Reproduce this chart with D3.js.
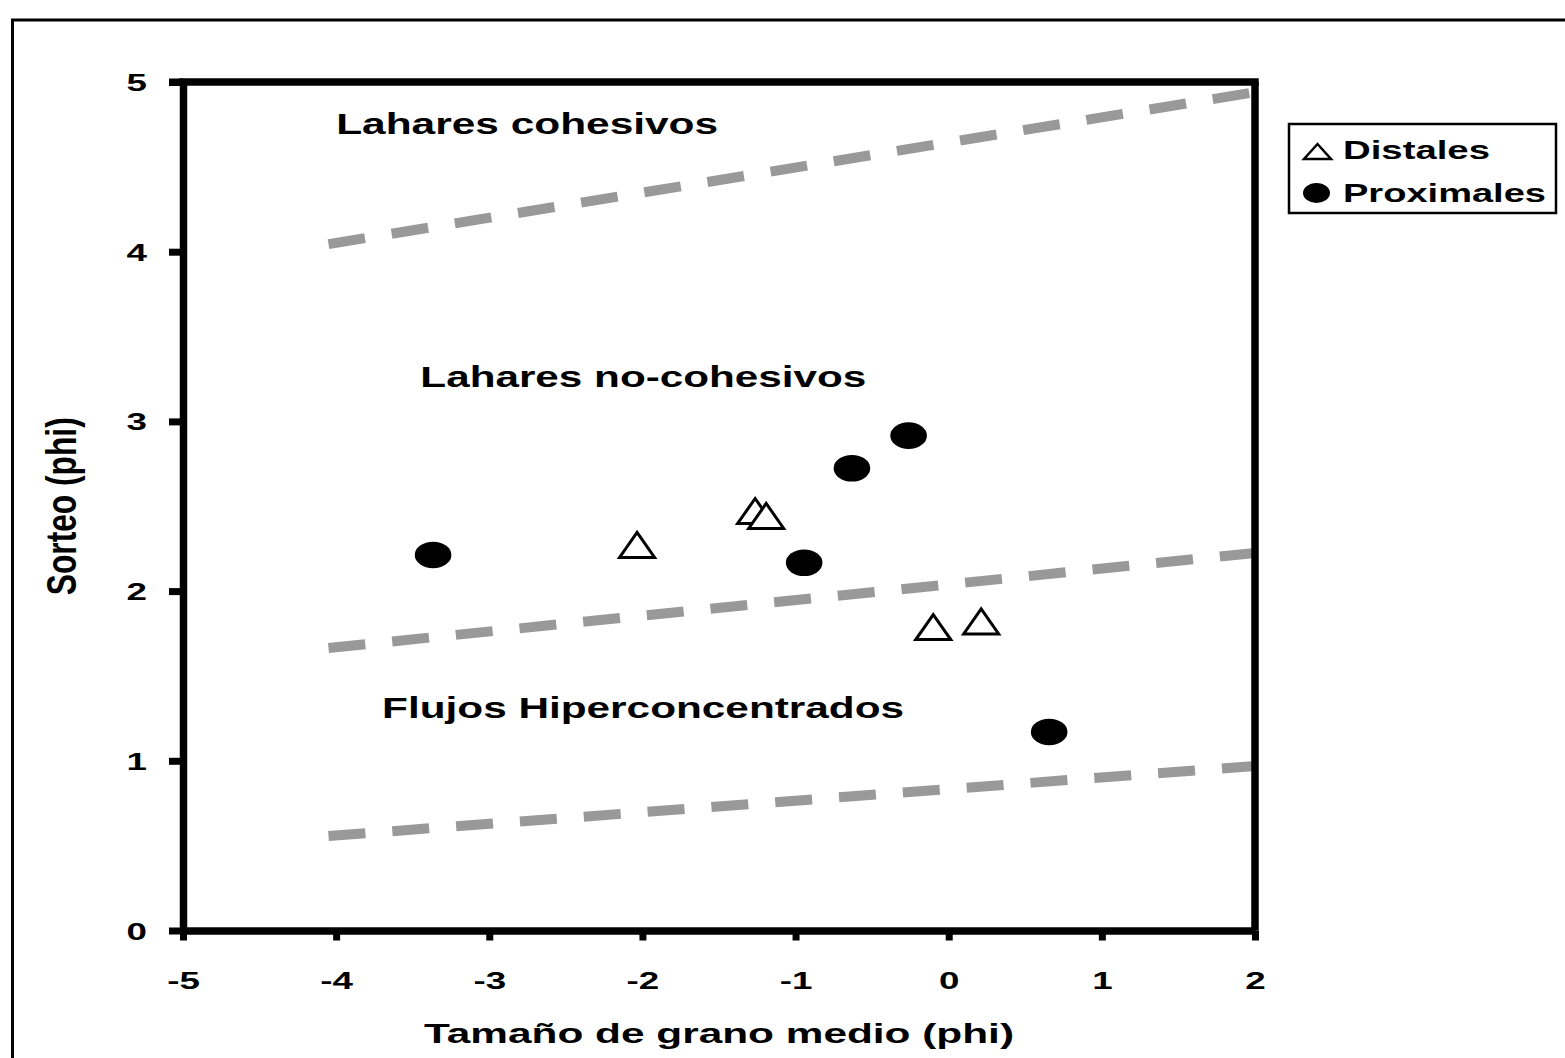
<!DOCTYPE html>
<html>
<head>
<meta charset="utf-8">
<script src="https://cdn.jsdelivr.net/npm/d3@7"></script>
<style>
  body { margin: 0; background: #fff; }
  text { font-family: "Liberation Sans", Arial, sans-serif; font-weight: bold; }
</style>
</head>
<body>
<div class="stage"></div>
<script>
// stage size
var width = 1565;
var height = 1058;

// data
var xTicks = [-5, -4, -3, -2, -1, 0, 1, 2];
var yTicks = [0, 1, 2, 3, 4, 5];

var distalesX = [-2.035, -1.264, -1.192, -0.101, 0.212];
var distalesY = [2.272, 2.472, 2.443, 1.788, 1.821];

var proximalesX = [-3.367, -0.944, -0.632, -0.262, 0.656];
var proximalesY = [2.213, 2.167, 2.724, 2.916, 1.170];

// boundary lines between flow types: [x, y] at each end
var limitNames = ['cohesivos', 'no-cohesivos', 'hiperconcentrados'];
var limitStart = [[-4.05, 4.045], [-4.05, 1.665], [-4.05, 0.557]];
var limitEnd = [[2, 4.94], [2, 2.225], [2, 0.97]];

// zone labels
var zoneLabels = ['Lahares cohesivos', 'Lahares no-cohesivos', 'Flujos Hiperconcentrados'];
var zoneX = [-4.0, -3.45, -3.70];
var zoneY = [4.75, 3.26, 1.31];
var zoneWidth = [382, 446, 522];

var legendLabels = ['Distales', 'Proximales'];

// scales
var x = d3.scaleLinear().domain([-5, 2]).range([183, 1255]);
var y = d3.scaleLinear().domain([0, 5]).range([930.5, 82]);

var svg = d3.select('.stage')
            .append('svg')
            .attr('width', width)
            .attr('height', height)
            .style('background', '#fff');

// outer frame (runs off the picture to the right and bottom)
svg.append('rect')
  .attr('x', 12.5)
  .attr('y', 20)
  .attr('width', 1700)
  .attr('height', 1200)
  .attr('fill', 'none')
  .attr('stroke', '#000')
  .attr('stroke-width', 3);

// dashed limit lines
svg.selectAll('.limit')
  .data(limitNames)
  .enter()
  .append('line')
  .attr('class', 'limit')
  .attr('x1', function(d, i) { return x(limitStart[i][0]); })
  .attr('y1', function(d, i) { return y(limitStart[i][1]); })
  .attr('x2', function(d, i) { return x(limitEnd[i][0]); })
  .attr('y2', function(d, i) { return y(limitEnd[i][1]); })
  .attr('stroke', '#999')
  .attr('stroke-width', 10)
  .attr('stroke-dasharray', '37 27');

// zone labels
svg.selectAll('.zone')
  .data(zoneLabels)
  .enter()
  .append('text')
  .attr('class', 'zone')
  .attr('x', function(d, i) { return x(zoneX[i]); })
  .attr('y', function(d, i) { return y(zoneY[i]) + 10; })
  .attr('font-size', 29)
  .attr('textLength', function(d, i) { return zoneWidth[i]; })
  .attr('lengthAdjust', 'spacingAndGlyphs')
  .text(function(d) { return d; });

// markers
var triPath = function(w, h) {
  return 'M0,' + (-h / 2) + 'L' + (w / 2) + ',' + (h / 2) + 'L' + (-w / 2) + ',' + (h / 2) + 'Z';
};

svg.selectAll('.distal')
  .data(distalesX)
  .enter()
  .append('path')
  .attr('class', 'distal')
  .attr('transform', function(d, i) { return 'translate(' + x(d) + ',' + y(distalesY[i]) + ')'; })
  .attr('d', triPath(35, 25))
  .attr('fill', '#fff')
  .attr('stroke', '#000')
  .attr('stroke-width', 3);

svg.selectAll('.proximal')
  .data(proximalesX)
  .enter()
  .append('ellipse')
  .attr('class', 'proximal')
  .attr('cx', function(d) { return x(d); })
  .attr('cy', function(d, i) { return y(proximalesY[i]); })
  .attr('rx', 18.3)
  .attr('ry', 13.3)
  .attr('fill', '#000');

// AXES
var plainFormat = function(d) { return String(d); };

var xAxis = svg.append('g')
  .attr('transform', 'translate(0,' + y(0) + ')')
  .call(d3.axisBottom(x).tickValues(xTicks).tickFormat(plainFormat).tickSize(10).tickSizeOuter(0));

var yAxis = svg.append('g')
  .attr('transform', 'translate(' + x(-5) + ',0)')
  .call(d3.axisLeft(y).tickValues(yTicks).tickFormat(plainFormat).tickSize(14).tickSizeOuter(0));

[xAxis, yAxis].forEach(function(ax) {
  ax.select('.domain').attr('stroke', '#000').attr('stroke-width', 7.5);
  ax.selectAll('.tick line').attr('stroke', '#000').attr('stroke-width', 7);
  ax.selectAll('.tick text')
    .attr('fill', '#000')
    .attr('font-size', 24.5)
    .style('font-family', '"Liberation Sans", Arial, sans-serif');
});

xAxis.selectAll('.tick text')
  .attr('x', 0)
  .attr('y', 0)
  .attr('dy', 0)
  .attr('transform', 'translate(0,58.5) scale(1.5,1)');

yAxis.selectAll('.tick text')
  .attr('x', 0)
  .attr('dy', '0.35em')
  .attr('transform', 'translate(-36,0) scale(1.5,1)');

// top and right edges of the plot box
svg.append('line')
  .attr('x1', x(-5) - 3.75).attr('x2', x(2) + 3.75)
  .attr('y1', y(5)).attr('y2', y(5))
  .attr('stroke', '#000').attr('stroke-width', 7.5);
svg.append('line')
  .attr('x1', x(2)).attr('x2', x(2))
  .attr('y1', y(5)).attr('y2', y(0))
  .attr('stroke', '#000').attr('stroke-width', 7.5);
svg.append('line')
  .attr('x1', x(-5) - 14).attr('x2', x(-5))
  .attr('y1', y(5)).attr('y2', y(5))
  .attr('stroke', '#000').attr('stroke-width', 7);

// axis titles
svg.append('text')
  .attr('x', (x(-5) + x(2)) / 2 - 295)
  .attr('y', 1043)
  .attr('font-size', 28)
  .attr('textLength', 590)
  .attr('lengthAdjust', 'spacingAndGlyphs')
  .text('Tamaño de grano medio (phi)');

svg.append('text')
  .attr('transform', 'translate(76,' + ((y(0) + y(5)) / 2) + ') scale(1.55,1) rotate(-90)')
  .attr('text-anchor', 'middle')
  .attr('font-size', 28)
  .attr('textLength', 178)
  .attr('lengthAdjust', 'spacingAndGlyphs')
  .text('Sorteo (phi)');

// LEGEND
var legend = svg.append('g').attr('class', 'legend');
legend.append('rect')
  .attr('x', 1289)
  .attr('y', 124)
  .attr('width', 267)
  .attr('height', 89)
  .attr('fill', '#fff')
  .attr('stroke', '#000')
  .attr('stroke-width', 2.5);

legend.append('path')
  .attr('transform', 'translate(1317.5,151.5)')
  .attr('d', triPath(27, 15))
  .attr('fill', '#fff')
  .attr('stroke', '#000')
  .attr('stroke-width', 2.5);

legend.append('ellipse')
  .attr('cx', 1316.5)
  .attr('cy', 193)
  .attr('rx', 13.5)
  .attr('ry', 10)
  .attr('fill', '#000');

legend.selectAll('.legend-label')
  .data(legendLabels)
  .enter()
  .append('text')
  .attr('class', 'legend-label')
  .attr('x', 1343)
  .attr('y', function(d, i) { return 159 + i * 43; })
  .attr('font-size', 25)
  .attr('textLength', function(d, i) { return i === 0 ? 147 : 203; })
  .attr('lengthAdjust', 'spacingAndGlyphs')
  .text(function(d) { return d; });
</script>
</body>
</html>
